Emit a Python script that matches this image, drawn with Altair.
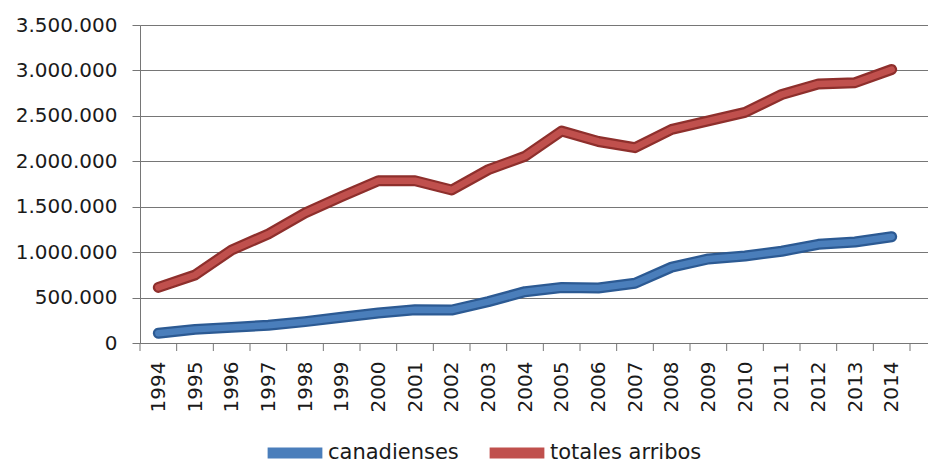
import altair as alt
import pandas as pd

years = list(range(1994, 2015))
canadienses = [107000, 150000, 172000, 195000, 235000, 283000, 330000, 365000, 363000,
               455000, 565000, 610000, 605000, 657000, 835000, 925000, 957000, 1010000,
               1086000, 1112000, 1170000]
totales = [612000, 748000, 1024000, 1200000, 1431000, 1612000, 1786000, 1786000, 1684000,
           1908000, 2055000, 2333000, 2218000, 2150000, 2352000, 2445000, 2538000, 2735000,
           2851000, 2865000, 3010000]
series_names = ["canadienses", "totales arribos"]
inner_colors = ["#4A7EBB", "#C0504D"]
outer_colors = ["#2C5A93", "#8E2F2C"]
y_ticks = [0, 500000, 1000000, 1500000, 2000000, 2500000, 3000000, 3500000]
band_edges = [y - 0.5 for y in years] + [years[-1] + 0.5]

rows = []
for yr, c, t in zip(years, canadienses, totales):
    rows.append({"anio": yr, "serie": series_names[0], "valor": c})
    rows.append({"anio": yr, "serie": series_names[1], "valor": t})
df = pd.DataFrame(rows)
edges = pd.DataFrame({"b": band_edges})

W, H = 788, 318
FONT = "DejaVu Sans"
GRID = "#767676"

xscale = alt.Scale(domain=[1993.5, 1993.5 + W / 36.667], nice=False, zero=False)
yscale = alt.Scale(domain=[0, 3500000], nice=False)

xaxis = alt.Axis(
    values=years, format="d", labelAngle=270, labelAlign="right", labelBaseline="middle",
    ticks=False, grid=False, domain=True, domainColor=GRID, labelPadding=18,
    labelFont=FONT, labelFontSize=20, labelColor="#1a1a1a", labelOverlap=False,
    labelFlush=False, labelBound=False, title=None)
xenc = alt.X("anio:Q", scale=xscale, axis=xaxis)
yenc = alt.Y("valor:Q", scale=yscale, axis=alt.Axis(
    values=y_ticks, labelExpr="replace(format(datum.value, ','), /,/g, '.')",
    grid=True, gridColor=GRID, gridWidth=1, domain=True, domainColor=GRID,
    ticks=True, tickSize=8, tickColor=GRID, labelPadding=15, labelFont=FONT,
    labelFontSize=20, labelColor="#1a1a1a", title=None))

layers = []
for name, oc in zip(series_names, outer_colors):
    layers.append(
        alt.Chart(df).transform_filter(alt.datum.serie == name)
        .mark_line(strokeWidth=11, strokeCap="round", strokeJoin="round", color=oc)
        .encode(x=xenc, y=yenc)
    )

inner = alt.Chart(df).mark_line(strokeWidth=6.5, strokeCap="round", strokeJoin="round").encode(
    x=xenc, y=yenc,
    color=alt.Color("serie:N", scale=alt.Scale(domain=series_names, range=inner_colors),
                    legend=alt.Legend(orient="none", legendX=122, legendY=395,
                                      direction="horizontal", title=None,
                                      symbolType="stroke", symbolSize=3000,
                                      symbolStrokeWidth=11, labelFont=FONT,
                                      labelFontSize=21, labelColor="#1a1a1a",
                                      labelOffset=0, columnPadding=8)),
)
layers.append(inner)

ticks = alt.Chart(edges).mark_rule(color=GRID, strokeWidth=1).encode(
    x=alt.X("b:Q", scale=xscale, axis=xaxis), y=alt.value(H), y2=alt.value(H + 8))

chart = alt.layer(*layers, ticks).properties(
    width=W, height=H,
    autosize=alt.AutoSizeParams(type="none"),
    padding={"left": 132, "top": 17, "right": 0, "bottom": 120},
).configure_view(stroke=None).configure(background="white")

chart.save("out.html", embed_options={"renderer": "svg", "actions": False})
